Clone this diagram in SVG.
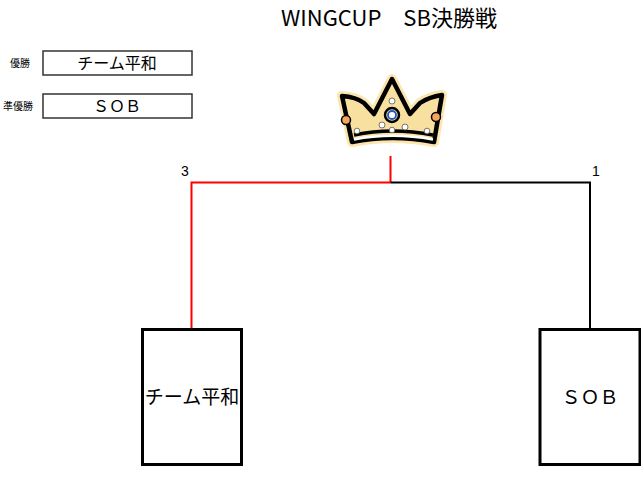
<svg xmlns="http://www.w3.org/2000/svg" width="641" height="478" viewBox="0 0 641 478">
<style>
.jp{font-family:"Noto Sans CJK JP","Liberation Sans",sans-serif;fill:#000}
.lab{font-family:"Liberation Sans","Noto Sans CJK JP",sans-serif;fill:#000}
.res{fill:#fff;stroke:#333;stroke-width:1.5}
.team{fill:#fff;stroke:#000;stroke-width:3}
.win{fill:none;stroke:#ff0000;stroke-width:2}
.lose{fill:none;stroke:#000;stroke-width:2}
.jw{fill:#fff;stroke:#555;stroke-width:0.8}
</style>
<rect width="641" height="478" fill="#fff"/>
<text class="jp" x="281" y="26" font-size="22">WINGCUP　SB決勝戦</text>

<g id="result-winner">
<text class="jp" x="20" y="67" font-size="10" text-anchor="middle">優勝</text>
<rect class="res" x="43" y="51" width="149" height="24"/>
<text class="jp" x="117" y="69" font-size="16" text-anchor="middle">チーム平和</text>
</g>
<g id="result-runnerup">
<text class="jp" x="18" y="110" font-size="10" text-anchor="middle">準優勝</text>
<rect class="res" x="43" y="94" width="149" height="24"/>
<text class="jp" x="117" y="112" font-size="16" text-anchor="middle">ＳＯＢ</text>
</g>

<g id="crown">
<path d="M352 142 L342 96 Q356 97 364 103 L374 114 L392 79 L410 114 L420 103 Q429 97 442 95 L434 142 Q392 134 352 142 Z" fill="none" stroke="#FBE6AE" stroke-width="10" stroke-linejoin="round"/>
<path d="M352 142 L342 96 Q356 97 364 103 L374 114 L392 79 L410 114 L420 103 Q429 97 442 95 L434 142 Q392 134 352 142 Z" fill="#F8E0A0" stroke="#000" stroke-width="4.5" stroke-linejoin="round"/>
<path d="M354 135 Q392 127 433 135" fill="none" stroke="#000" stroke-width="3.5"/>
<path d="M354 139.5 Q392 132 433 139.5" fill="none" stroke="#fff" stroke-width="2.5"/>
<circle cx="346" cy="120" r="4.5" fill="#F5A65B" stroke="#000" stroke-width="1.5"/>
<circle cx="436" cy="117" r="4.5" fill="#F5A65B" stroke="#000" stroke-width="1.5"/>
<circle class="jw" cx="357" cy="131" r="2.8"/>
<circle class="jw" cx="382" cy="125" r="3"/>
<circle class="jw" cx="392" cy="130" r="2.8"/>
<circle class="jw" cx="405" cy="127" r="3"/>
<circle class="jw" cx="427" cy="131" r="2.8"/>
<circle class="jw" cx="392" cy="101" r="3"/>
<circle cx="392" cy="115" r="7" fill="#F8E0A0" stroke="#000" stroke-width="2.5"/>
<circle cx="392" cy="115" r="4" fill="#fff" stroke="#2255CC" stroke-width="1.8"/>
</g>

<g id="connectors">
<polyline class="win" points="191.5,328 191.5,182.5 390.5,182.5"/>
<line class="win" x1="390.5" y1="156" x2="390.5" y2="182.5"/>
<polyline class="lose" points="390.5,182.5 590,182.5 590,328"/>
</g>

<text class="lab" x="185" y="176" font-size="14" text-anchor="middle">3</text>
<text class="lab" x="596" y="176" font-size="14" text-anchor="middle">1</text>

<g id="team-left">
<rect class="team" x="142.5" y="329.5" width="99" height="135"/>
<text class="jp" x="192" y="404" font-size="19" text-anchor="middle">チーム平和</text>
</g>
<g id="team-right">
<rect class="team" x="540" y="329.5" width="100" height="135"/>
<text class="jp" x="590" y="404" font-size="19" text-anchor="middle">ＳＯＢ</text>
</g>
</svg>
